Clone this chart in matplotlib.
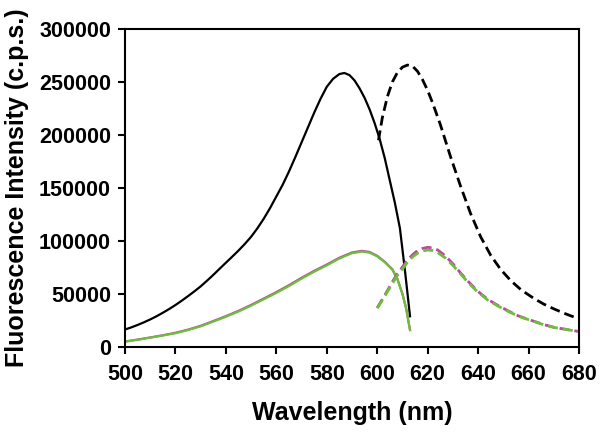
import matplotlib
matplotlib.use("Agg")
import matplotlib.pyplot as plt

plt.rcParams['font.family'] = ['Liberation Sans', 'DejaVu Sans']
plt.rcParams['font.weight'] = 'bold'

# Excitation (solid) black
ex1_wl = [500, 502.5, 505, 507.5, 510, 512.5, 515, 517.5, 520, 522.5, 525, 527.5, 530, 532.5,
          535, 537.5, 540, 542.5, 545, 547.5, 550, 552.5, 555, 557.5, 560, 562.5, 565, 567.5,
          570, 572.5, 575, 577.5, 580, 582.5, 585, 587, 589, 591, 593, 595, 597, 599, 601,
          603, 605, 607, 609, 611, 613]
ex1_val = [16500, 18500, 20800, 23300, 26000, 29000, 32300, 35800, 39600, 43700, 48000, 52500,
           57200, 62500, 68000, 73800, 79500, 85200, 91000, 97200, 104000, 112000, 121000,
           131000, 142000, 153000, 165500, 179000, 193000, 207000, 221000, 234000, 245500,
           253000, 257500, 258500, 256500, 251500, 244000, 235000, 224000, 211000, 196000,
           178000, 157000, 136000, 112000, 72000, 29000]

# Emission (dashed) black
em1_wl = [600.5, 602, 604, 606, 608, 610, 612, 614, 616, 618, 620, 622, 625, 629, 633, 637,
          641, 645, 649, 653, 657, 662, 666, 670, 675, 680]
em1_val = [195000, 216000, 236000, 250000, 259000, 264000, 266000, 265000, 260000, 252000,
           242000, 230000, 210000, 180000, 152000, 126000, 104000, 86500, 73000, 62500, 54000,
           46000, 40500, 36000, 31000, 26500]

# Excitation (solid) green / magenta
ex2_wl = [500, 505, 510, 515, 520, 525, 530, 535, 540, 545, 550, 555, 560, 565, 570, 575,
          580, 585, 590, 594, 597, 600, 603, 606, 608, 610, 611.5, 613]
ex2_val = [5000, 6800, 8800, 10800, 13000, 16000, 19500, 24000, 28500, 33500, 39000, 45000,
           51000, 57500, 64500, 71000, 77000, 83500, 88500, 90000, 89000, 85500, 80000, 73000,
           64000, 50000, 36000, 16000]
ex3_val = [5200, 7000, 9000, 11100, 13400, 16400, 20000, 24500, 29100, 34100, 39700, 45700,
           51800, 58300, 65300, 71800, 77800, 84200, 89200, 90700, 89600, 86000, 80400, 73300,
           64200, 50200, 36100, 16000]

# Emission (dashed) green / magenta
em2_wl = [600, 602, 604, 606, 608, 610, 612, 614, 616, 618, 620, 622, 624, 627, 630, 633,
          636, 640, 644, 648, 652, 656, 661, 666, 670, 675, 680]
em2_val = [36500, 44000, 52000, 60000, 67500, 73500, 80000, 85000, 88500, 90500, 91500,
           91000, 89000, 84000, 77000, 69000, 61000, 51500, 44000, 38500, 33500, 29000, 25000,
           21000, 18500, 16500, 14500]
em3_val = [37000, 45000, 53000, 61500, 69000, 75500, 82000, 87000, 91000, 93000, 94000,
           93500, 91500, 86000, 78500, 70000, 62000, 52300, 44700, 39000, 34000, 29300, 25200,
           21200, 18600, 16600, 14600]

x_ticks = [500, 520, 540, 560, 580, 600, 620, 640, 660, 680]
y_ticks = [0, 50000, 100000, 150000, 200000, 250000, 300000]

GREEN = '#6CBF3A'
MAGENTA = '#C044A4'

fig = plt.figure(figsize=(6.02, 4.34), dpi=100)
ax = fig.add_axes([125 / 602, 1 - 347 / 434, 454 / 602, 318 / 434])

ax.plot(ex1_wl, ex1_val, color='black', lw=1.6, solid_joinstyle='round')
ax.plot(em1_wl, em1_val, color='black', lw=2.0, dashes=(3.6, 1.8))
ax.plot(ex2_wl, ex3_val, color=MAGENTA, lw=1.6)
ax.plot(ex2_wl, ex2_val, color=GREEN, lw=1.6)
ax.plot(em2_wl, em3_val, color=MAGENTA, lw=2.0, dashes=(3.6, 1.8))
ax.plot(em2_wl, em2_val, color=GREEN, lw=2.0, dashes=(3.6, 1.8))

ax.set_xlim(500, 680)
ax.set_ylim(0, 300000)
ax.set_xticks(x_ticks)
ax.set_yticks(y_ticks)
ax.set_xticklabels([str(v) for v in x_ticks])
ax.set_yticklabels([str(v) for v in y_ticks])

for s in ax.spines.values():
    s.set_linewidth(1.5)
ax.tick_params(direction='out', length=5, width=1.5, labelsize=15.5)
ax.tick_params(axis='x', pad=7)
ax.tick_params(axis='y', pad=5)
for lbl in ax.get_xticklabels() + ax.get_yticklabels():
    lbl.set_fontweight('bold')

ax.set_xlabel('Wavelength (nm)', fontsize=18, fontweight='bold', labelpad=12)
ax.set_ylabel('Fluorescence Intensity (c.p.s.)', fontsize=18, fontweight='bold', labelpad=7)

fig.savefig('out.png', dpi=100)
